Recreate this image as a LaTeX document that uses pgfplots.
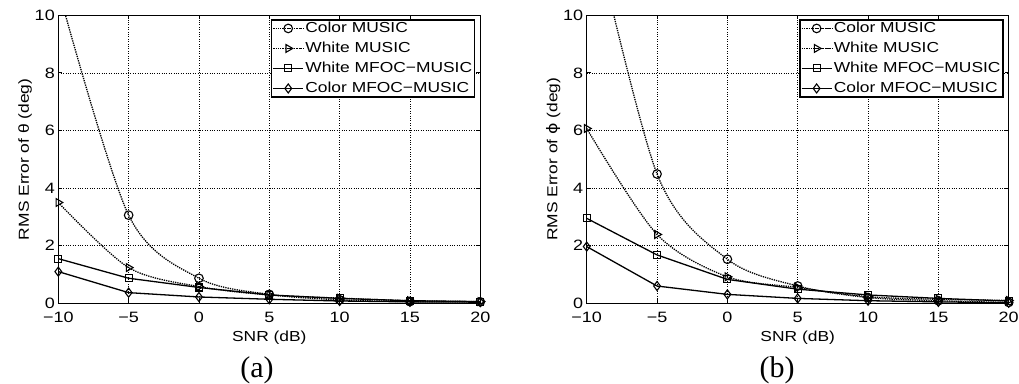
\documentclass[border=0pt]{standalone}
\usepackage{fontspec}
\setmainfont{Liberation Sans}[FakeStretch=1.2]
\newfontfamily\seriffont{Liberation Serif}
\newfontfamily\dejavu{DejaVu Sans}[FakeStretch=1.2]
\usepackage{pgfplots}
\pgfplotsset{compat=1.18}

\pgfplotstableread{
x    cm    wm    wf    cf
-10  10.9  3.50  1.55  1.10
-5   3.06  1.24  0.87  0.37
0    0.87  0.58  0.55  0.22
5    0.31  0.29  0.29  0.14
10   0.12  0.18  0.17  0.08
15   0.06  0.09  0.09  0.05
20   0.05  0.06  0.06  0.04
}\dataA

\pgfplotstableread{
x    cm    wm    wf    cf
-10  14.0  6.07  2.95  1.97
-5   4.49  2.39  1.68  0.60
0    1.53  0.92  0.83  0.31
5    0.60  0.55  0.49  0.17
10   0.20  0.23  0.29  0.09
15   0.09  0.14  0.17  0.05
20   0.03  0.10  0.08  0.02
}\dataB

\pgfplotsset{
 mystyle/.style={
  scale only axis, width=422pt, height=288pt,
  xmin=-10,xmax=20,ymin=0,ymax=10,
  xtick={-10,-5,0,5,10,15,20},
  xticklabels={−10,−5,0,5,10,15,20},
  ytick={0,2,4,6,8,10},
  yticklabels={0,2,4,6,8,10},
  grid=major,
  major grid style={black, dotted, line width=0.7pt},
  tick align=inside, tick style={black, line width=0.8pt}, major tick length=4pt,
  axis line style={line width=1.2pt},
  tick label style={font=\fontsize{15}{15}\selectfont},
  label style={font=\fontsize{14.5}{14.5}\selectfont},
  xlabel={SNR (dB)},
  xlabel style={yshift=-2pt},
  ylabel style={yshift=-4pt},
  xticklabel style={yshift=-5pt},
  legend style={at={(0.988,0.986)}, anchor=north east,
     font=\fontsize{14.5}{14.5}\selectfont, draw=black, line width=1.2pt,
     inner sep=1pt, row sep=5pt, cells={anchor=west},
     nodes={inner sep=1.5pt}},
  legend cell align=left,
  legend image code/.code={\draw[mark repeat=2,mark phase=2,#1]
      plot coordinates {(0pt,0pt)(15pt,0pt)(30pt,0pt)};},
  every axis plot/.append style={black, line width=1.3pt},
 },
 cmstyle/.style={densely dotted, smooth, mark=o, mark size=4.3pt, mark options={solid, fill=white, line width=1.1pt}},
 wmstyle/.style={densely dotted, smooth, mark=triangle, mark size=4.5pt, mark options={solid, rotate=-90, fill=white, line width=1.1pt}},
 wfstyle/.style={solid, mark=square, mark size=3.5pt, mark options={solid, fill=white, line width=1.1pt}},
 cfstyle/.style={solid, mark=diamond, mark size=4.5pt, mark options={solid, fill=white, line width=1.1pt}},
}

\begin{document}
\begin{tikzpicture}[x=1pt,y=1pt]
\useasboundingbox (0,0) rectangle (1019,383);
\begin{axis}[mystyle, at={(58.3pt,79.7pt)}, anchor=south west,
  ylabel={RMS Error of θ (deg)}]
\addplot[cmstyle] table[x=x,y=cm]{\dataA};
\addplot[wmstyle] table[x=x,y=wm]{\dataA};
\addplot[wfstyle] table[x=x,y=wf]{\dataA};
\addplot[cfstyle] table[x=x,y=cf]{\dataA};
\legend{Color MUSIC, White MUSIC, White MFOC−MUSIC, Color MFOC−MUSIC}
\end{axis}
\begin{axis}[mystyle, at={(586.7pt,79.7pt)}, anchor=south west,
  ylabel={RMS Error of {\dejavu ϕ} (deg)}]
\addplot[cmstyle] table[x=x,y=cm]{\dataB};
\addplot[wmstyle] table[x=x,y=wm]{\dataB};
\addplot[wfstyle] table[x=x,y=wf]{\dataB};
\addplot[cfstyle] table[x=x,y=cf]{\dataB};
\legend{Color MUSIC, White MUSIC, White MFOC−MUSIC, Color MFOC−MUSIC}
\end{axis}
\node[font=\seriffont\fontsize{30}{30}\selectfont] at (257,13) {(a)};
\node[font=\seriffont\fontsize{30}{30}\selectfont] at (777,13) {(b)};
\end{tikzpicture}
\end{document}
